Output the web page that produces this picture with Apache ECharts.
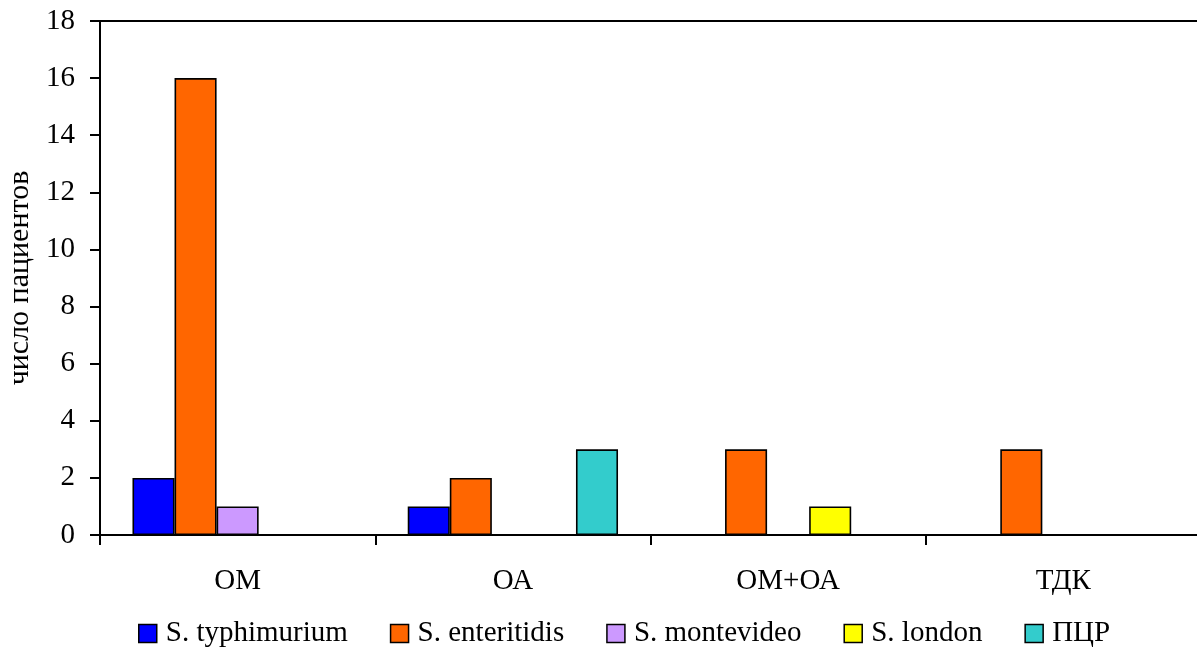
<!DOCTYPE html>
<html><head><meta charset="utf-8">
<script src="https://cdn.jsdelivr.net/npm/echarts@6/dist/echarts.min.js"></script>
<style>html,body{margin:0;padding:0;background:#fff}#c{width:1197px;height:648px}</style>
</head><body><div id="c"></div>
<script>
var categories = ['ОМ', 'ОА', 'ОМ+ОА', 'ТДК'];
var seriesNames = ['S. typhimurium', 'S. enteritidis', 'S. montevideo', 'S. london', 'ПЦР'];
var typhimurium = [2, 1, 0, 0];
var enteritidis = [16, 2, 3, 3];
var montevideo = [1, 0, 0, 0];
var london = [0, 0, 1, 0];
var pcr = [0, 3, 0, 0];
var colors = ['#0000FF', '#FF6600', '#CC99FF', '#FFFF00', '#33CCCC'];
var allData = [typhimurium, enteritidis, montevideo, london, pcr];

var font = 'Liberation Serif';
var chart = echarts.init(document.getElementById('c'));
chart.setOption({
  animation: false,
  textStyle: {fontFamily: font},
  grid: {left: 100, right: -4, top: 21, bottom: 113, show: true, borderColor: '#000', borderWidth: 2, backgroundColor: 'transparent', outerBoundsMode: 'none', containLabel: false},
  legend: {
    bottom: -5, left: 133, itemWidth: 18, itemHeight: 18, itemGap: 42,
    icon: 'rect',
    textStyle: {fontFamily: font, fontSize: 29, color: '#000', padding: [0,0,0,4]},
    data: seriesNames.map(function(n, i){ return {name: n, itemStyle: {color: colors[i], borderColor: '#000', borderWidth: 1.5}}; })
  },
  xAxis: {
    type: 'category', data: categories,
    axisLine: {lineStyle: {color: '#000', width: 2}},
    axisTick: {show: true, length: 10, lineStyle: {color: '#000', width: 2}},
    axisLabel: {fontFamily: font, fontSize: 29, color: '#000', margin: 32}
  },
  yAxis: {
    type: 'value', min: 0, max: 18, interval: 2,
    name: 'число пациентов', nameLocation: 'middle', nameGap: 63, nameRotate: 90,
    nameTextStyle: {fontFamily: font, fontSize: 30, color: '#000'},
    axisLine: {show: true, lineStyle: {color: '#000', width: 2}},
    axisTick: {show: true, length: 10, lineStyle: {color: '#000', width: 2}},
    axisLabel: {fontFamily: font, fontSize: 29, color: '#000', margin: 25},
    splitLine: {show: false}
  },
  series: allData.map(function(d, i){
    return {
      name: seriesNames[i], type: 'bar', data: d,
      barGap: '0%', barCategoryGap: '23.6%',
      itemStyle: {color: colors[i], borderColor: '#000', borderWidth: 1.6}
    };
  })
});
</script></body></html>
